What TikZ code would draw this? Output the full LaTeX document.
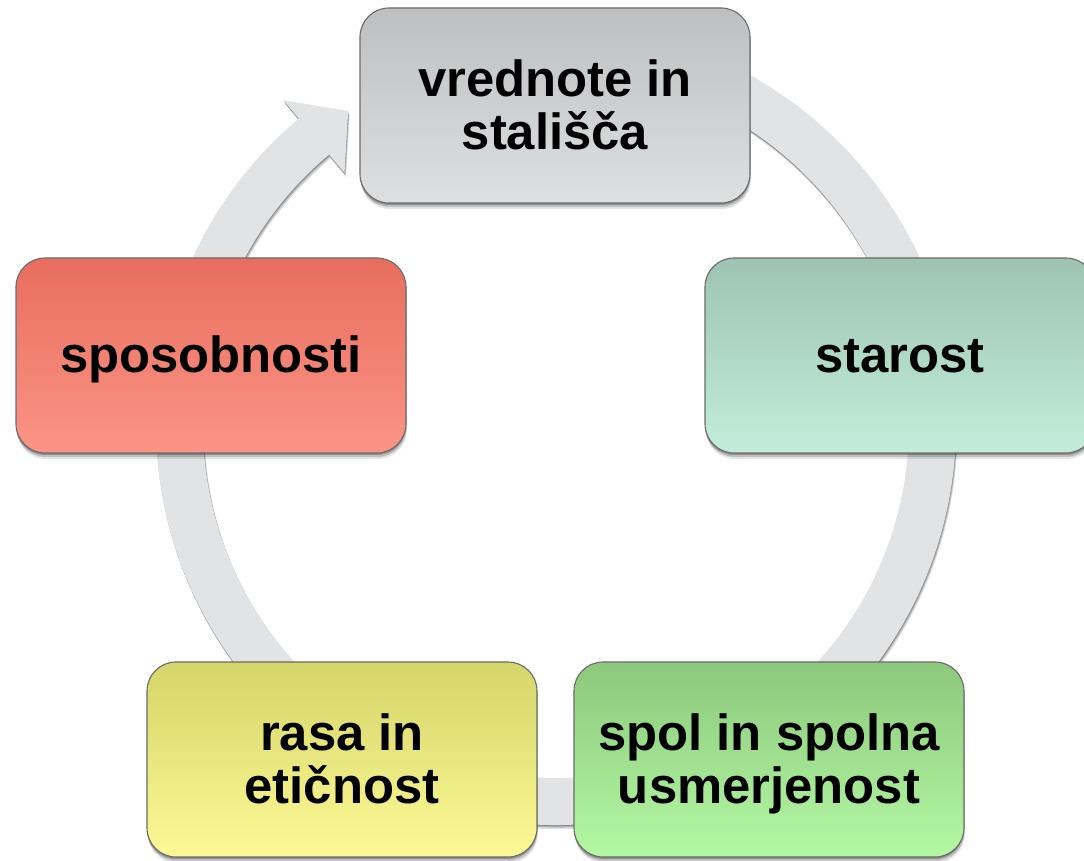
\documentclass[tikz,border=0pt]{standalone}
\usepackage{fontspec}
\setmainfont{Liberation Sans}
\usetikzlibrary{shadows}

\definecolor{ringgray}{HTML}{E2E3E4}
\definecolor{grayTop}{HTML}{BEBFC1}
\definecolor{grayBot}{HTML}{DDDFE0}
\definecolor{tealTop}{HTML}{9EC3B2}
\definecolor{tealBot}{HTML}{C3EDDA}
\definecolor{greenTop}{HTML}{8DC87D}
\definecolor{greenBot}{HTML}{B3F8A3}
\definecolor{yellowTop}{HTML}{D4D56A}
\definecolor{yellowBot}{HTML}{FDF995}
\definecolor{redTop}{HTML}{E86E5E}
\definecolor{redBot}{HTML}{FB9486}

% line struts: ascent on the first line, descent on the last
\newcommand{\tstr}{\rule{0pt}{45.6pt}}
\newcommand{\bstr}{\rule[-10.7pt]{0pt}{10.7pt}}

% the circular arrow ring, centred on the current origin
\newcommand{\ringshape}[1]{%
  \fill[#1] (100:400) arc[start angle=100, end angle=-230, radius=400]
    -- (130:424) -- (123.5:376.5) -- (130:329) -- (130:353)
    arc[start angle=-230, end angle=100, radius=353] -- cycle;}

\tikzset{
  box/.style={rounded corners=29pt, minimum width=390pt, minimum height=195pt,
    inner sep=0pt, align=center, draw=black!58, line width=1.1pt, text=black,
    font=\bfseries\fontsize{50.8}{52.5}\selectfont,
    drop shadow={fill=black, draw=none, opacity=.10, shadow xshift=0.8pt, shadow yshift=-6pt},
    drop shadow={fill=black, draw=none, opacity=.16, shadow xshift=0.5pt, shadow yshift=-4pt},
    drop shadow={fill=black, draw=none, opacity=.25, shadow xshift=0pt, shadow yshift=-2pt}},
  shadegray/.style={top color=grayTop, bottom color=grayBot},
  shadeteal/.style={top color=tealTop, bottom color=tealBot},
  shadegreen/.style={top color=greenTop, bottom color=greenBot},
  shadeyellow/.style={top color=yellowTop, bottom color=yellowBot},
  shadered/.style={top color=redTop, bottom color=redBot},
}

\begin{document}
\begin{tikzpicture}[x=1pt, y=1pt]
\clip (0,0) rectangle (1084,861);
\fill[white] (0,0) rectangle (1084,861);

% ring behind the boxes, with a soft shadow
\begin{scope}[shift={(556,436)}]
  \ringshape{black, opacity=.12, shift={(1.5,-4)}}
  \ringshape{black, opacity=.18, shift={(1,-2.5)}}
  \ringshape{black, opacity=.25, shift={(0.3,-1.2)}}
  \ringshape{ringgray}
\end{scope}

% the five boxes
\node[box, shadegray]   (values)  at (555,755.5) {\tstr vrednote in\\stališča\bstr};
\node[box, shadeteal]   (age)     at (900,505.5) {\tstr starost\bstr};
\node[box, shadegreen]  (gender)  at (769,101.5) {\tstr spol in spolna\\usmerjenost\bstr};
\node[box, shadeyellow] (race)    at (342,101.5) {\tstr rasa in\\etičnost\bstr};
\node[box, shadered]    (ability) at (211,505.5) {\tstr sposobnosti\bstr};
\end{tikzpicture}
\end{document}
